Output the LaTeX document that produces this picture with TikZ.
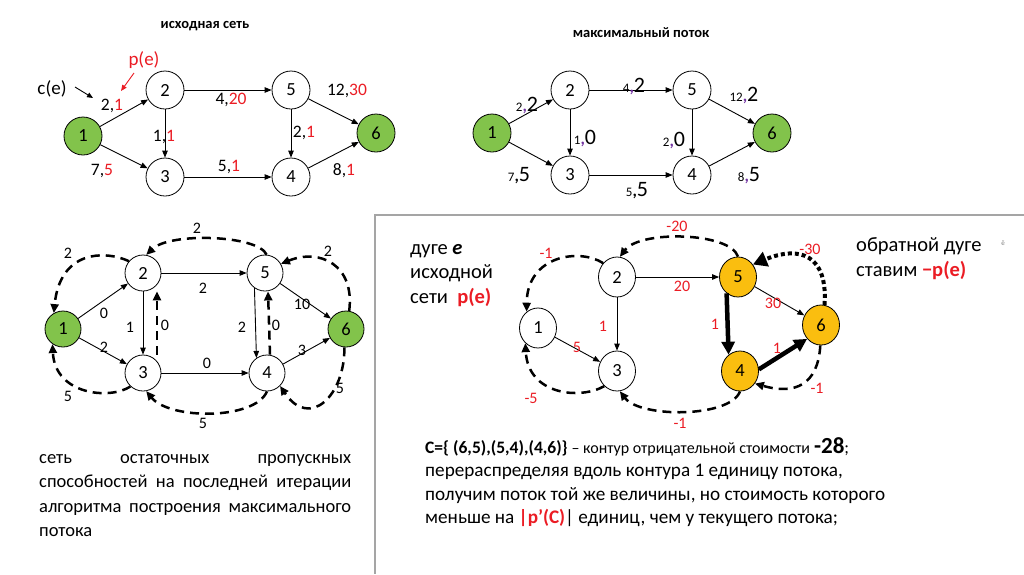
\documentclass[tikz,border=0pt]{standalone}
\usepackage{fontspec}
\setmainfont{Carlito}
\usetikzlibrary{arrows.meta,shapes.geometric}
\definecolor{cgreen}{RGB}{130,195,75}
\definecolor{corange}{RGB}{250,190,15}
\definecolor{cred}{RGB}{235,28,36}
\definecolor{cpurple}{RGB}{112,48,160}
\definecolor{cgray}{RGB}{165,165,165}
\newcommand{\myfs}[1]{\fontsize{#1}{#1}\selectfont}
% small value, comma, big value
\newcommand{\flw}[3]{{\myfs{13}#1}{\color{#3}\bfseries\myfs{17},}{\myfs{22}#2}}
\tikzset{
 vtx/.style={circle, draw=black, line width=0.8pt, fill=white, minimum size=38pt, inner sep=0pt, font=\myfs{18.5}},
 vg/.style={vtx, fill=cgreen},
 vb/.style={vtx, minimum size=36pt},
 vbg/.style={vb, fill=cgreen},
 ve/.style={ellipse, draw=black, line width=0.8pt, fill=white, minimum width=37pt, minimum height=40pt, inner sep=0pt, font=\myfs{18.5}},
 vo/.style={ve, fill=corange},
 ed/.style={line width=0.9pt, -{Triangle[length=7pt,width=5.5pt]}},
 ds/.style={line width=2.5pt, dash pattern=on 9pt off 6pt, -{Triangle[length=9pt,width=8pt]}},
 dt/.style={line width=4pt, dash pattern=on 4pt off 3pt, -{Triangle[length=14pt,width=15pt]}},
 tk/.style={line width=4.5pt, -{Triangle[length=13pt,width=13pt]}},
 lb/.style={inner sep=0pt, font=\myfs{17.5}},
 lk/.style={inner sep=0pt, font=\myfs{16}},
 lr/.style={inner sep=0pt, font=\myfs{16}, text=cred},
 ttl/.style={inner sep=0pt, font=\bfseries\myfs{14.5}},
 txt/.style={inner sep=0pt, anchor=base west, font=\myfs{20.5}},
}
\begin{document}
\begin{tikzpicture}[x=1pt,y=-1pt]
\fill[white] (0,0) rectangle (1024,574);
\useasboundingbox (0,0) rectangle (1024,574);

% panel frame
\coordinate (fA) at (1024,215);
\coordinate (fB) at (375,215);
\coordinate (fC) at (375,574);
\draw[cgray, line width=1.6pt] (fA) -- (fB) -- (fC);

% ---------- titles ----------
\node[ttl] (t1) at (205,26) {исходная сеть};
\node[ttl] (t2) at (641,33) {максимальный поток};

% ---------- top-left: original network ----------
\node[vg]  (a1) at (83,136) {1};
\node[vtx] (a2) at (165,90) {2};
\node[vtx] (a3) at (165,177) {3};
\node[vtx] (a5) at (291,90) {5};
\node[vtx] (a4) at (291,177) {4};
\node[vg]  (a6) at (376,133) {6};
\draw[ed] (a1) -- (a2);
\draw[ed] (a1) -- (a3);
\draw[ed] (a2) -- (a3);
\draw[ed] (a2) -- (a5);
\draw[ed] (a3) -- (a4);
\draw[ed] (a5) -- (a4);
\draw[ed] (a5) -- (a6);
\draw[ed] (a4) -- (a6);
\node[lb] (la12) at (112,106) {2,\textcolor{cred}{1}};
\node[lb] (la13) at (102,171) {7,\textcolor{cred}{5}};
\node[lb] (la23) at (164,137) {1,\textcolor{cred}{1}};
\node[lb] (la25) at (231,100) {4,\textcolor{cred}{20}};
\node[lb] (la34) at (229,167) {5,\textcolor{cred}{1}};
\node[lb] (la54) at (304,133) {2,\textcolor{cred}{1}};
\node[lb] (la56) at (347,91) {12,\textcolor{cred}{30}};
\node[lb] (la46) at (344,171) {8,\textcolor{cred}{1}};
\node[inner sep=0pt, font=\myfs{19}] (ce) at (52,89) {c(e)};
\coordinate (ceA) at (75,87);
\coordinate (ceB) at (93,98);
\draw[line width=0.9pt, -{Triangle[length=6pt,width=5pt]}] (ceA) -- (ceB);
\node[inner sep=0pt, font=\myfs{19}, text=cred] (pe) at (144,60) {p(e)};
\coordinate (peA) at (134,73);
\coordinate (peB) at (121,91);
\draw[cred, line width=0.9pt, -{Triangle[length=6pt,width=5pt]}] (peA) -- (peB);

% ---------- top-right: maximum flow ----------
\node[vg]  (m1) at (492,133) {1};
\node[vtx] (m2) at (570,90) {2};
\node[vtx] (m3) at (570,175) {3};
\node[vtx] (m5) at (692,90) {5};
\node[vtx] (m4) at (692,175) {4};
\node[vg]  (m6) at (772,133) {6};
\draw[ed] (m1) -- (m2);
\draw[ed] (m1) -- (m3);
\draw[ed] (m2) -- (m3);
\draw[ed] (m2) -- (m5);
\draw[ed] (m3) -- (m4);
\draw[ed] (m5) -- (m4);
\draw[ed] (m5) -- (m6);
\draw[ed] (m4) -- (m6);
\node[inner sep=0pt] (lm12) at (527,106) {\flw{2}{2}{cpurple}};
\node[inner sep=0pt] (lm25) at (634,87) {\flw{4}{2}{cpurple}};
\node[inner sep=0pt] (lm56) at (744,96) {\flw{12}{2}{cpurple}};
\node[inner sep=0pt] (lm23) at (585,139) {\flw{1}{0}{cpurple}};
\node[inner sep=0pt] (lm54) at (674,141) {\flw{2}{0}{cpurple}};
\node[inner sep=0pt] (lm13) at (519,176) {\flw{7}{5}{black}};
\node[inner sep=0pt] (lm34) at (637,191) {\flw{5}{5}{black}};
\node[inner sep=0pt] (lm46) at (749,176) {\flw{8}{5}{cpurple}};

% ---------- bottom-left: residual network ----------
\node[vbg] (b1) at (63,329) {1};
\node[vb]  (b2) at (143,273) {2};
\node[vb]  (b3) at (143,373) {3};
\node[vb]  (b5) at (265,273) {5};
\node[vb]  (b4) at (267,373) {4};
\node[vbg] (b6) at (346,329) {6};
\draw[ed] (b1) -- (b2);
\draw[ed] (b1) -- (b3);
\draw[ed] (b2) -- (b3);
\draw[ed] (b2) -- (b5);
\draw[ed] (b3) -- (b4);
\draw[ed] (b5.235) -- (b4.125);
\draw[ed] (b5) -- (b6);
\draw[ed] (b4) -- (b6);
\draw[ds] ([xshift=14pt]b3.north) -- ([xshift=14pt]b2.south);
\draw[ds] ([xshift=3pt]b4.north) -- ([xshift=3pt]b5.south);
\draw[ds] (b5.85) .. controls (258,235) and (170,232) .. (b2.80);
\draw[ds] (b2.140) .. controls (105,250) and (60,250) .. (b1.120);
\draw[ds] (b3.227) .. controls (110,400) and (55,395) .. (b1.235);
\draw[ds] (b4.270) .. controls (255,420) and (170,420) .. (b3.280);
\draw[ds] (b6.80) .. controls (355,265) and (320,248) .. (b5.30);
\draw[ds] (b6.265) .. controls (345,395) and (310,430) .. (b4.315);
\node[lk] (lb12) at (104,313) {0};
\node[lk] (lb13) at (104,347) {2};
\node[lk] (lb23) at (130,327) {1};
\node[lk] (lb32) at (165,325) {0};
\node[lk] (lb25) at (203,288) {2};
\node[lk] (lb34) at (207,363) {0};
\node[lk] (lb54) at (242,327) {2};
\node[lk] (lb45) at (276,325) {0};
\node[lk] (lb56) at (302,304) {10};
\node[lk] (lb46) at (302,350) {3};
\node[lk] (lb52) at (197,228) {2};
\node[lk] (lb21) at (68,253) {2};
\node[lk] (lb31) at (68,396) {5};
\node[lk] (lb43) at (203,423) {5};
\node[lk] (lb65) at (328,251) {2};
\node[lk] (lb64) at (340,388) {5};

% ---------- bottom-right: costs ----------
\node[ve] (c1) at (538,328) {1};
\node[ve] (c2) at (617,277) {2};
\node[ve] (c3) at (617,371) {3};
\node[vo] (c5) at (738,277) {5};
\node[vo] (c4) at (740,371) {4};
\node[vo] (c6) at (821,325) {6};
\draw[ed] (c1) -- (c3);
\draw[ed] (c2) -- (c3);
\draw[ed] (c2) -- (c5);
\draw[ed] (c5) -- (c6);
\draw[tk] (c5.235) -- (c4.125);
\draw[tk] (c4.5) -- (c6.225);
\draw[ds] (c2.135) .. controls (580,248) and (527,255) .. (c1.125);
\draw[ds] (c3.230) .. controls (580,400) and (528,395) .. (c1.230);
\draw[ds] (c5.90) .. controls (730,232) and (640,230) .. (c2.82);
\draw[ds] (c4.270) .. controls (730,418) and (640,418) .. (c3.278);
\draw[ds] (c6.268) .. controls (818,385) and (795,395) .. (c4.320);
\draw[dt] (c6.80) .. controls (828,255) and (800,245) .. (c5.40);
\node[lr] (lc13) at (577,347) {5};
\node[lr] (lc23) at (603,326) {1};
\node[lr] (lc25) at (682,286) {20};
\node[lr] (lc56) at (773,303) {30};
\node[lr] (lc54) at (715,324) {1};
\node[lr] (lc46) at (777,348) {1};
\node[lr] (lc21) at (546,253) {-1};
\node[lr] (lc31) at (531,398) {-5};
\node[lr] (lc52) at (677,226) {-20};
\node[lr] (lc43) at (680,423) {-1};
\node[lr] (lc64) at (817,388) {-1};
\node[lr] (lc65) at (810,249) {-30};

% side texts
\node[txt] (s1) at (410,254) {дуге \textbf{\textit{e}}};
\node[txt] (s2) at (410,278) {исходной};
\node[txt] (s3) at (410,303) {сети \ \textcolor{cred}{\textbf{p(e)}}};
\node[txt] (s4) at (856,251) {обратной дуге};
\node[txt] (s5) at (856,276) {ставим \textcolor{cred}{\textbf{−p(e)}}};
\node[inner sep=0pt, font=\myfs{7}, text=gray] (s6) at (1003,243) {ë};

% bottom-left paragraph
\node[inner sep=0pt, anchor=base west, text width=312pt, align=justify, font=\fontsize{18.5}{24.5}\selectfont] (par1) at (39,463)
 {сеть остаточных пропускных\linebreak способностей на последней итерации\linebreak алгоритма построения максимального\linebreak потока};

% bottom-right paragraph
\node[txt, font=\myfs{17.5}] (q1) at (425,453) {\textbf{C=\{ (6,5),(5,4),(4,6)\}} {\myfs{16}– контур отрицательной стоимости} {\bfseries\myfs{23}-28};};
\node[txt, font=\myfs{19.2}] (q2) at (425,476) {перераспределяя вдоль контура 1 единицу потока,};
\node[txt, font=\myfs{19.2}] (q3) at (425,500) {получим поток той же величины, но стоимость которого};
\node[txt, font=\myfs{19.2}] (q4) at (425,523) {меньше на \textcolor{cred}{\textbf{|p'(C)}}| единиц, чем у текущего потока;};
\end{tikzpicture}
\end{document}
